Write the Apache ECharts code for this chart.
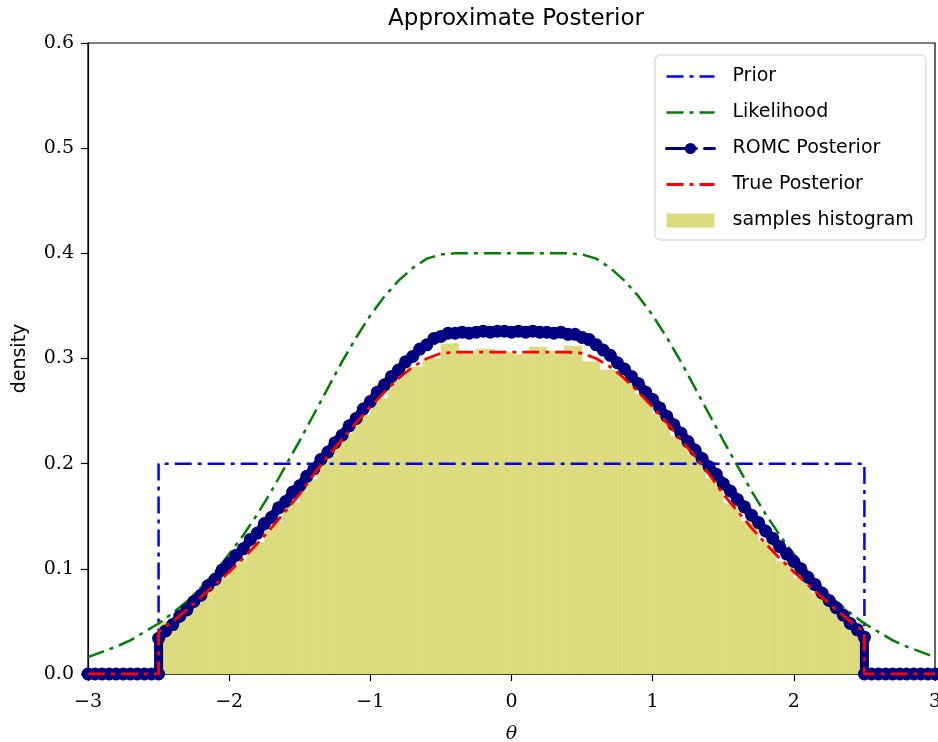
<!DOCTYPE html>
<html>
<head>
<meta charset="utf-8">
<script src="https://cdn.jsdelivr.net/npm/echarts@6/dist/echarts.min.js"></script>
<style>
  html, body { margin: 0; padding: 0; background: #ffffff; }
  #chart { width: 938px; height: 742px; }
</style>
</head>
<body>
<div id="chart"></div>
<script>
// ---------- data ----------
var xTicks = [-3, -2, -1, 0, 1, 2, 3];
var yTicks = [0.0, 0.1, 0.2, 0.3, 0.4, 0.5, 0.6];

// Prior (uniform on [-2.5, 2.5])
var priorTheta = [-3.0, -2.5, -2.5, 2.5, 2.5, 3.0];
var priorDensity = [0.0, 0.0, 0.2, 0.2, 0.0, 0.0];

// Likelihood
var likeTheta = [-3.0,-2.9,-2.8,-2.7,-2.6,-2.5,-2.4,-2.3,-2.2,-2.1,
  -2.0,-1.9,-1.8,-1.7,-1.6,-1.5,-1.4,-1.3,-1.2,-1.1,
  -1.0,-0.9,-0.8,-0.7,-0.6,-0.5,-0.4,-0.3,-0.2,-0.1,
  0.0,
  0.1,0.2,0.3,0.4,0.5,0.6,0.7,0.8,0.9,1.0,
  1.1,1.2,1.3,1.4,1.5,1.6,1.7,1.8,1.9,2.0,
  2.1,2.2,2.3,2.4,2.5,2.6,2.7,2.8,2.9,3.0];
var likeDensity = [0.016,0.021,0.026,0.032,0.040,0.048,0.058,0.069,0.082,0.097,
  0.114,0.132,0.152,0.174,0.198,0.222,0.247,0.272,0.297,0.320,
  0.341,0.359,0.374,0.386,0.395,0.399,0.400,0.400,0.400,0.400,
  0.400,
  0.400,0.400,0.400,0.400,0.399,0.395,0.386,0.374,0.359,0.341,
  0.320,0.297,0.272,0.247,0.222,0.198,0.174,0.152,0.132,0.114,
  0.097,0.082,0.069,0.058,0.048,0.040,0.032,0.026,0.021,0.016];

// True posterior
var trueTheta = [-3.0,-2.75,-2.5,
  -2.5,-2.4,-2.3,-2.2,-2.1,-2.0,-1.9,-1.8,-1.7,-1.6,-1.5,-1.4,-1.3,-1.2,-1.1,
  -1.0,-0.9,-0.8,-0.7,-0.6,-0.5,-0.4,-0.3,-0.2,-0.1,0.0,
  0.1,0.2,0.3,0.4,0.5,0.6,0.7,0.8,0.9,1.0,
  1.1,1.2,1.3,1.4,1.5,1.6,1.7,1.8,1.9,2.0,2.1,2.2,2.3,2.4,2.5,
  2.5,2.75,3.0];
var trueDensity = [0.0,0.0,0.0,
  0.040,0.050,0.061,0.073,0.085,0.097,0.110,0.124,0.139,0.155,0.171,0.190,0.207,0.223,0.239,
  0.254,0.268,0.281,0.292,0.300,0.305,0.306,0.306,0.306,0.306,0.306,
  0.306,0.306,0.306,0.306,0.305,0.300,0.292,0.281,0.268,0.254,
  0.239,0.223,0.207,0.190,0.171,0.155,0.139,0.124,0.110,0.097,0.085,0.073,0.061,0.050,0.040,
  0.0,0.0,0.0];

// ROMC posterior
var romcTheta = [-3.0,-2.95,-2.9,-2.85,-2.8,-2.75,-2.7,-2.65,-2.6,-2.55,-2.5,
  -2.5,-2.45,-2.4,-2.35,-2.3,-2.25,-2.2,-2.15,-2.1,-2.05,
  -2.0,-1.95,-1.9,-1.85,-1.8,-1.75,-1.7,-1.65,-1.6,-1.55,
  -1.5,-1.45,-1.4,-1.35,-1.3,-1.25,-1.2,-1.15,-1.1,-1.05,
  -1.0,-0.95,-0.9,-0.85,-0.8,-0.75,-0.7,-0.65,-0.6,-0.55,
  -0.5,-0.45,-0.4,-0.35,-0.3,-0.25,-0.2,-0.15,-0.1,-0.05,
  0.0,
  0.05,0.1,0.15,0.2,0.25,0.3,0.35,0.4,0.45,0.5,
  0.55,0.6,0.65,0.7,0.75,0.8,0.85,0.9,0.95,1.0,
  1.05,1.1,1.15,1.2,1.25,1.3,1.35,1.4,1.45,1.5,
  1.55,1.6,1.65,1.7,1.75,1.8,1.85,1.9,1.95,2.0,
  2.05,2.1,2.15,2.2,2.25,2.3,2.35,2.4,2.45,2.5,
  2.5,2.55,2.6,2.65,2.7,2.75,2.8,2.85,2.9,2.95,3.0];
var romcDensity = [0,0,0,0,0,0,0,0,0,0,0,
  0.034,0.041,0.047,0.055,0.061,0.069,0.075,0.084,0.090,0.099,
  0.105,0.113,0.119,0.128,0.134,0.143,0.149,0.158,0.164,0.173,
  0.179,0.188,0.195,0.204,0.211,0.220,0.227,0.236,0.243,0.252,
  0.259,0.268,0.275,0.283,0.289,0.297,0.302,0.309,0.313,0.319,
  0.321,0.324,0.324,0.325,0.324,0.325,0.326,0.325,0.326,0.326,
  0.325,
  0.326,0.325,0.326,0.325,0.325,0.324,0.325,0.323,0.323,0.320,
  0.318,0.313,0.308,0.303,0.296,0.290,0.283,0.276,0.268,0.261,
  0.253,0.245,0.237,0.229,0.221,0.213,0.205,0.197,0.190,0.181,
  0.174,0.166,0.159,0.151,0.144,0.136,0.129,0.121,0.114,0.107,
  0.100,0.092,0.085,0.077,0.070,0.063,0.056,0.048,0.042,0.035,
  0,0,0,0,0,0,0,0,0,0,0];

// Samples histogram (bin edges and densities)
var histEdges = [-2.5,-2.375,-2.25,-2.125,-2.0,-1.875,-1.75,-1.625,-1.5,-1.375,
  -1.25,-1.125,-1.0,-0.875,-0.75,-0.625,-0.5,-0.375,-0.25,-0.125,
  0.0,0.125,0.25,0.375,0.5,0.625,0.75,0.875,1.0,1.125,
  1.25,1.375,1.5,1.625,1.75,1.875,2.0,2.125,2.25,2.375,2.5];
var histDensity = [0.050,0.062,0.078,0.092,0.108,0.125,0.144,0.163,0.185,0.207,
  0.228,0.246,0.262,0.282,0.292,0.300,0.314,0.305,0.309,0.306,
  0.304,0.311,0.307,0.312,0.297,0.289,0.283,0.266,0.248,0.226,
  0.208,0.186,0.162,0.145,0.126,0.107,0.091,0.077,0.063,0.049];

// ---------- build chart ----------
function pairs(xs, ys) {
  var out = [];
  for (var i = 0; i < xs.length; i++) out.push([xs[i], ys[i]]);
  return out;
}
var histData = [];
for (var i = 0; i < histDensity.length; i++) {
  histData.push([histEdges[i], histEdges[i + 1], histDensity[i]]);
}

var SANS = '"DejaVu Sans", sans-serif';
var SERIF = '"DejaVu Serif", serif';
var DASHDOT = [17, 6, 4, 6];
var HIDDEN_SYMBOL = { color: 'rgba(0,0,0,0)', borderWidth: 0, opacity: 0 };

var chart = echarts.init(document.getElementById('chart'), null, { renderer: 'canvas' });
var option = {
  animation: false,
  backgroundColor: '#ffffff',
  title: {
    text: 'Approximate Posterior',
    left: 511,
    top: 3,
    textAlign: 'center',
    textStyle: { fontFamily: SANS, fontSize: 23, fontWeight: 'normal', color: '#000000' }
  },
  grid: {
    left: 88, right: 3, top: 43, bottom: 68,
    containLabel: false,
    outerBoundsMode: 'none',
    show: true,
    borderColor: '#000000',
    borderWidth: 1.2,
    backgroundColor: 'transparent'
  },
  legend: {
    orient: 'vertical',
    left: 655,
    top: 55,
    padding: [12, 12, 10, 10],
    itemWidth: 48,
    itemHeight: 14,
    itemGap: 17,
    backgroundColor: 'rgba(255,255,255,0.85)',
    borderColor: '#cccccc',
    borderWidth: 1,
    borderRadius: 5,
    textStyle: { fontFamily: SANS, fontSize: 19, color: '#000000', padding: [0, 0, 0, 13] },
    data: [
      { name: 'Prior', itemStyle: HIDDEN_SYMBOL, lineStyle: { color: '#0000ff', width: 2.5, type: DASHDOT } },
      { name: 'Likelihood', itemStyle: HIDDEN_SYMBOL, lineStyle: { color: '#008000', width: 2.5, type: DASHDOT } },
      { name: 'ROMC Posterior', lineStyle: { color: '#000080', width: 3, type: [30, 8, 10, 0] } },
      { name: 'True Posterior', itemStyle: HIDDEN_SYMBOL, lineStyle: { color: '#ff0000', width: 2.8, type: DASHDOT } },
      { name: 'samples histogram', icon: 'rect' }
    ]
  },
  xAxis: {
    type: 'value',
    min: -3, max: 3, interval: 1,
    name: 'θ',
    nameLocation: 'middle',
    nameGap: 51,
    nameTextStyle: { fontFamily: SERIF, fontSize: 19, fontStyle: 'italic', color: '#000000' },
    splitLine: { show: false },
    axisLine: { show: true, onZero: false, lineStyle: { color: '#000000', width: 1.2 } },
    axisTick: { show: true, inside: false, length: 7, lineStyle: { color: '#000000', width: 1.2 } },
    axisLabel: {
      margin: 19,
      fontFamily: SERIF, fontSize: 19, color: '#000000',
      formatter: function (v) { return v < 0 ? '\u2212' + Math.abs(v) : String(v); }
    }
  },
  yAxis: {
    type: 'value',
    min: 0, max: 0.6, interval: 0.1,
    name: 'density',
    nameLocation: 'middle',
    nameGap: 58,
    nameRotate: 90,
    nameTextStyle: { fontFamily: SANS, fontSize: 19, color: '#000000' },
    splitLine: { show: false },
    axisLine: { show: true, onZero: false, lineStyle: { color: '#000000', width: 1.2 } },
    axisTick: { show: true, inside: false, length: 7, lineStyle: { color: '#000000', width: 1.2 } },
    axisLabel: {
      margin: 14,
      fontFamily: SERIF, fontSize: 19, color: '#000000',
      formatter: function (v) { return v.toFixed(1); }
    }
  },
  series: [
    {
      name: 'samples histogram',
      type: 'custom',
      z: 1,
      itemStyle: { color: '#dcdc7f' },
      encode: { x: [0, 1], y: 2 },
      data: histData,
      renderItem: function (params, api) {
        var p0 = api.coord([api.value(0), api.value(2)]);
        var p1 = api.coord([api.value(1), 0]);
        return {
          type: 'rect',
          shape: { x: p0[0], y: p0[1], width: p1[0] - p0[0], height: p1[1] - p0[1] },
          style: { fill: '#dcdc7f', stroke: '#dcdc7f', lineWidth: 0.6 }
        };
      }
    },
    {
      name: 'Prior',
      type: 'line',
      z: 2,
      showSymbol: false,
      symbol: 'none',
      color: '#0000ff',
      lineStyle: { color: '#0000ff', width: 2.5, type: DASHDOT },
      data: pairs(priorTheta, priorDensity)
    },
    {
      name: 'Likelihood',
      type: 'line',
      z: 3,
      showSymbol: false,
      symbol: 'none',
      color: '#008000',
      lineStyle: { color: '#008000', width: 2.5, type: DASHDOT },
      data: pairs(likeTheta, likeDensity)
    },
    {
      name: 'ROMC Posterior',
      type: 'line',
      z: 4,
      symbol: 'circle',
      symbolSize: 13,
      showSymbol: true,
      color: '#000080',
      itemStyle: { color: '#000080' },
      lineStyle: { color: '#000080', width: 9, join: 'round', cap: 'round' },
      data: pairs(romcTheta, romcDensity)
    },
    {
      name: 'True Posterior',
      type: 'line',
      z: 5,
      showSymbol: false,
      symbol: 'none',
      color: '#ff0000',
      lineStyle: { color: '#ff0000', width: 2.8, type: DASHDOT },
      data: pairs(trueTheta, trueDensity)
    }
  ]
};
chart.setOption(option);
</script>
</body>
</html>
